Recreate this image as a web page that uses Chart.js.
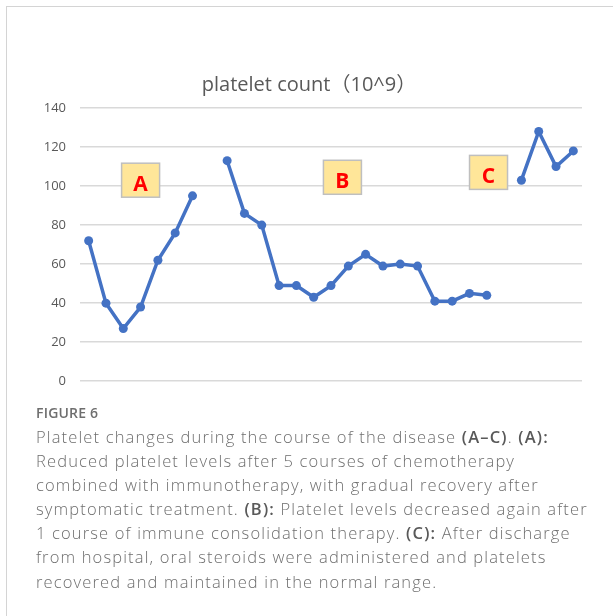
<!DOCTYPE html>
<html>
<head>
<meta charset="utf-8">
<script src="https://cdn.jsdelivr.net/npm/chart.js@4"></script>
<style>
  html, body { margin: 0; padding: 0; background: #fff; }
  body { width: 613px; height: 616px; position: relative; overflow: hidden; }
  .frame { position: absolute; left: 6px; top: 6px; width: 700px; height: 700px;
           border-left: 1.5px solid #d4d4d4; border-top: 1.5px solid #d4d4d4; }
  #wrap { position: absolute; left: 0; top: 0; width: 613px; height: 403px; }
  .caption { position: absolute; left: 36px; top: 401px; width: 580px; white-space: nowrap;
             font-family: "Open Sans", "Noto Sans", sans-serif; color: #6e6e6e; }
  .caption .fig { font-size: 14px; font-weight: 600; letter-spacing: 0.2px; line-height: 24px; }
  .caption p { margin: 0; font-size: 16.5px; font-weight: 300; line-height: 24.1px; letter-spacing: 1.15px; }
  .caption b { font-weight: 600; color: #595959; letter-spacing: 1.2px; }
</style>
</head>
<body>
<div class="frame"></div>
<div id="wrap"><canvas id="chart"></canvas></div>
<div class="caption">
  <div class="fig">FIGURE 6</div>
  <p>Platelet changes during the course of the disease <b>(A–C)</b>. <b>(A):</b><br>Reduced platelet levels after 5 courses of chemotherapy<br>combined with immunotherapy, with gradual recovery after<br>symptomatic treatment. <b>(B):</b> Platelet levels decreased again after<br>1 course of immune consolidation therapy. <b>(C):</b> After discharge<br>from hospital, oral steroids were administered and platelets<br>recovered and maintained in the normal range.</p>
</div>
<script>
// platelet counts, gaps (null) separate phases A, B and C
const phaseA = [72, 40, 27, 38, 62, 76, 95];
const phaseB = [113, 86, 80, 49, 49, 43, 49, 59, 65, 59, 60, 59, 41, 41, 45, 44];
const phaseC = [103, 128, 110, 118];
const counts = [...phaseA, null, ...phaseB, null, ...phaseC];
const labels = counts.map((_, i) => String(i + 1));
const yTicks = [0, 20, 40, 60, 80, 100, 120, 140];

// phase label boxes (category index, value)
const boxLabels = ['A', 'B', 'C'];
const boxX = [3, 14.66, 23.1];
const boxY = [103, 104.5, 107];

const boxPlugin = {
    id: 'phaseBoxes',
    afterDatasetsDraw(chart) {
        const { ctx, scales } = chart;
        ctx.save();
        boxLabels.forEach((txt, i) => {
            const cx = scales.x.getPixelForValue(boxX[i]);
            const cy = scales.y.getPixelForValue(boxY[i]);
            const w = 38, h = 34;
            ctx.fillStyle = '#ffe699';
            ctx.fillRect(cx - w / 2, cy - h / 2, w, h);
            ctx.strokeStyle = '#bfbfbf';
            ctx.lineWidth = 1.5;
            ctx.strokeRect(cx - w / 2, cy - h / 2, w, h);
            ctx.fillStyle = '#ff0000';
            ctx.font = 'bold 21px "Open Sans", "Liberation Sans", sans-serif';
            ctx.textAlign = 'center';
            ctx.textBaseline = 'middle';
            ctx.fillText(txt, cx, cy + 5);
        });
        ctx.restore();
    }
};

new Chart(document.getElementById('chart').getContext('2d'), {
    type: 'line',
    data: {
        labels: labels,
        datasets: [{
            label: 'platelet count',
            data: counts,
            borderColor: '#4472c4',
            backgroundColor: '#4472c4',
            borderWidth: 3.5,
            pointRadius: 4.5,
            pointBorderWidth: 0,
            spanGaps: false,
            tension: 0
        }]
    },
    options: {
        responsive: true, maintainAspectRatio: false, animation: false,
        layout: { padding: { top: 73, right: 31, bottom: 6, left: 36 } },
        plugins: {
            legend: { display: false },
            tooltip: { enabled: false },
            title: {
                display: true,
                text: 'platelet count（10^9）',
                color: '#595959',
                font: { family: '"Open Sans", "Noto Sans CJK SC", sans-serif', size: 20, weight: 'normal' },
                padding: { top: 0, bottom: 11 }
            }
        },
        scales: {
            x: {
                offset: true,
                ticks: { display: false },
                grid: { display: false },
                border: { display: false }
            },
            y: {
                min: 0, max: 140,
                afterBuildTicks: (axis) => { axis.ticks = yTicks.map(v => ({ value: v })); },
                afterFit: (axis) => { axis.width = 44; },
                ticks: {
                    color: '#595959', padding: 14,
                    font: { family: '"Open Sans", "Liberation Sans", sans-serif', size: 13 }
                },
                grid: { color: '#d9d9d9', lineWidth: 1.5, drawTicks: false },
                border: { display: false }
            }
        }
    },
    plugins: [boxPlugin]
});
</script>
</body>
</html>
